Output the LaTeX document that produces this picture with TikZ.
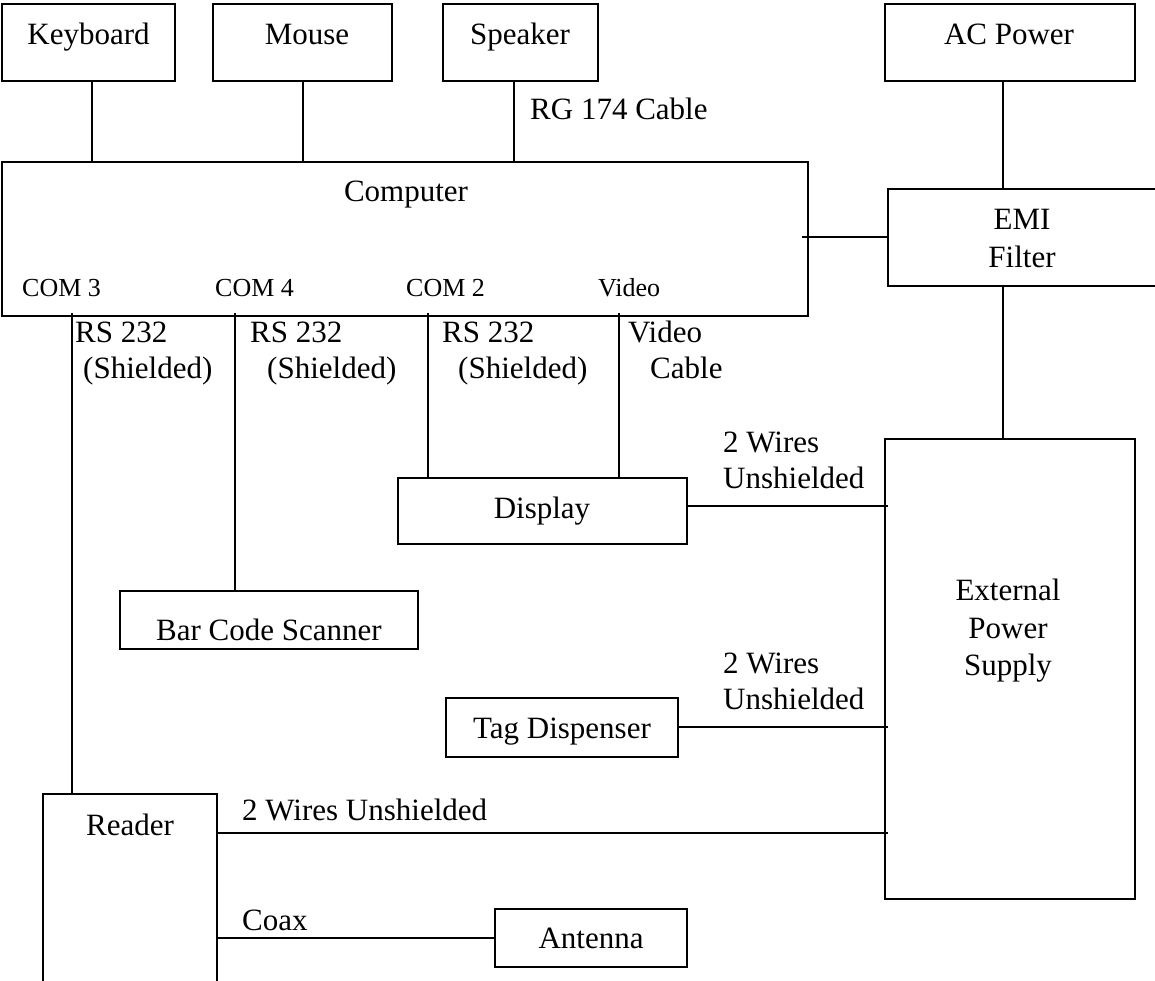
\documentclass[tikz,border=0pt]{standalone}
\usepackage{fontspec}
\setmainfont{Liberation Serif}
\begin{document}
\begin{tikzpicture}[x=1pt,y=-1pt,
  box/.style={draw,line width=1.2pt,inner sep=0pt,outer sep=0pt},
  wire/.style={line width=1.2pt},
  txt/.style={inner sep=0pt,anchor=base,font=\fontsize{31}{37}\selectfont},
  ltxt/.style={inner sep=0pt,anchor=base west,font=\fontsize{31}{37}\selectfont},
  port/.style={inner sep=0pt,anchor=base west,font=\fontsize{26}{30}\selectfont}]
\useasboundingbox[fill=white] (0,0) rectangle (1155,981);
% boxes
\node[box,minimum width=173pt,minimum height=77pt] (kb) at (88.5,42.5) {};
\node[box,minimum width=179pt,minimum height=77pt] (mouse) at (302.5,42.5) {};
\node[box,minimum width=155pt,minimum height=77pt] (spk) at (520.5,42.5) {};
\node[box,minimum width=250pt,minimum height=77pt] (ac) at (1010,42.5) {};
\node[box,minimum width=806pt,minimum height=154pt] (comp) at (405,239) {};
\node[box,minimum width=268pt,minimum height=97pt] (emi) at (1022,237.5) {};
\node[box,minimum width=250pt,minimum height=460pt] (eps) at (1010,669) {};
\node[box,minimum width=289pt,minimum height=66pt] (disp) at (542.5,511) {};
\node[box,minimum width=298pt,minimum height=58pt] (bcs) at (269,620) {};
\node[box,minimum width=232pt,minimum height=59pt] (tag) at (562,727.5) {};
\node[box,minimum width=174pt,minimum height=191pt] (rdr) at (130,889.5) {};
\node[box,minimum width=192pt,minimum height=58pt] (ant) at (591,938) {};
% box texts
\node[txt] at (88.5,45) {Keyboard};
\node[txt] at (307,45) {Mouse};
\node[txt] at (520,45) {Speaker};
\node[txt] at (1009,45) {AC Power};
\node[txt] at (406,202) {Computer};
\node[txt] at (1022,230) {EMI};
\node[txt] at (1022,268) {Filter};
\node[txt] at (1008,600) {External};
\node[txt] at (1008,638) {Power};
\node[txt] at (1008,675) {Supply};
\node[txt] at (542,518) {Display};
\node[txt] at (269,640) {Bar Code Scanner};
\node[txt] at (562,738) {Tag Dispenser};
\node[txt] at (130,835) {Reader};
\node[txt] at (591,948) {Antenna};
% port labels
\node[port] at (22,297) {COM 3};
\node[port] at (215,297) {COM 4};
\node[port] at (406,297) {COM 2};
\node[port] at (598,297) {Video};
% connectors
\draw[wire] (92,0 |- kb.south) -- (92,0 |- comp.north);
\draw[wire] (303,0 |- mouse.south) -- (303,0 |- comp.north);
\draw[wire] (514,0 |- spk.south) -- (514,0 |- comp.north);
\draw[wire] (1003,0 |- ac.south) -- (1003,0 |- emi.north);
\coordinate (cj) at (802,237);
\draw[wire] (cj) -- (cj -| emi.west);
\draw[wire] (1003,0 |- emi.south) -- (1003,0 |- eps.north);
\draw[wire] (72,313) -- (72,0 |- rdr.north);
\draw[wire] (235,313) -- (235,0 |- bcs.north);
\draw[wire] (428,313) -- (428,0 |- disp.north);
\draw[wire] (619,313) -- (619,0 |- disp.north);
\draw[wire] (disp.east |- 0,506) -- (888,506);
\draw[wire] (tag.east |- 0,727) -- (888,727);
\draw[wire] (rdr.east |- 0,833) -- (888,833);
\draw[wire] (rdr.east |- ant.west) -- (ant.west);
% connector labels
\node[ltxt] at (530,120) {RG 174 Cable};
\node[ltxt] at (75,342) {RS 232};
\node[ltxt] at (83,378) {(Shielded)};
\node[ltxt] at (250,342) {RS 232};
\node[ltxt] at (267,378) {(Shielded)};
\node[ltxt] at (442,342) {RS 232};
\node[ltxt] at (458,378) {(Shielded)};
\node[ltxt] at (628,342) {Video};
\node[ltxt] at (650,378) {Cable};
\node[ltxt] at (723,452) {2 Wires};
\node[ltxt] at (723,488) {Unshielded};
\node[ltxt] at (723,673) {2 Wires};
\node[ltxt] at (723,709) {Unshielded};
\node[ltxt] at (242,820) {2 Wires Unshielded};
\node[ltxt] at (242,930) {Coax};
\end{tikzpicture}
\end{document}
